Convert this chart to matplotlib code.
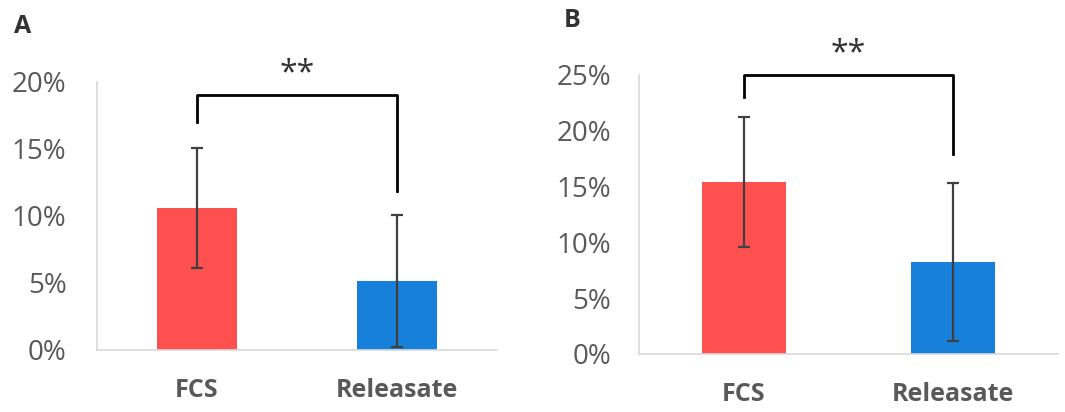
import matplotlib.pyplot as plt
from matplotlib.ticker import FuncFormatter

# Values in percent
categories = ["FCS", "Releasate"]
means_a = [10.6, 5.15]
errs_a = [4.5, 4.9]
means_b = [15.4, 8.25]
errs_b = [5.85, 7.1]

# Significance bracket: top level, left leg end, right leg end
bracket_a = [19.0, 17.0, 11.9]
bracket_b = [25.0, 23.0, 17.9]

bar_colors = ["#FF5050", "#1780DB"]
grey_text = "#595959"
plt.rcParams["font.family"] = ["Open Sans", "DejaVu Sans"]

fig = plt.figure(figsize=(10.65, 4.12), dpi=100)
ax_a = fig.add_axes([0.0911, 0.1505, 0.3756, 0.6505])
ax_b = fig.add_axes([0.600, 0.1408, 0.3934, 0.6772])


def draw_panel(ax, means, errs, ymax, step, bracket, star_y, ypad):
    x = range(len(categories))
    ax.bar(x, means, width=0.4, color=bar_colors, zorder=2)
    ax.errorbar(x, means, yerr=errs, fmt="none", ecolor="#404040",
                elinewidth=1.6, capsize=4, capthick=1.6, zorder=3)
    ax.set_xlim(-0.5, 1.5)
    ax.set_ylim(0, ymax)
    ax.set_yticks([i * step for i in range(int(ymax / step) + 1)])
    ax.yaxis.set_major_formatter(FuncFormatter(lambda v, p: f"{v:.0f}%"))
    ax.set_xticks(list(x))
    ax.set_xticklabels(categories, fontsize=18, fontweight="bold", color=grey_text)
    ax.tick_params(axis="y", labelsize=20, labelcolor=grey_text, length=0, pad=ypad)
    ax.tick_params(axis="x", length=0, pad=20)
    for side in ("top", "right"):
        ax.spines[side].set_visible(False)
    for side in ("left", "bottom"):
        ax.spines[side].set_color("#d9d9d9")
        ax.spines[side].set_linewidth(1.2)

    top, left_end, right_end = bracket
    ax.plot([0, 0, 1, 1], [left_end, top, top, right_end], color="black",
            lw=2, clip_on=False, zorder=4)
    ax.text(0.5, star_y, "**", ha="center", va="center", fontsize=23,
            color="#333333", clip_on=False)


draw_panel(ax_a, means_a, errs_a, 20, 5, bracket_a, 20.6, 22)
draw_panel(ax_b, means_b, errs_b, 25, 5, bracket_b, 26.9, 20)

fig.text(0.013, 0.935, "A", fontsize=18, fontweight="bold", color="#333333", va="center")
fig.text(0.529, 0.95, "B", fontsize=18, fontweight="bold", color="#333333", va="center")

fig.savefig("out.png", dpi=100)
